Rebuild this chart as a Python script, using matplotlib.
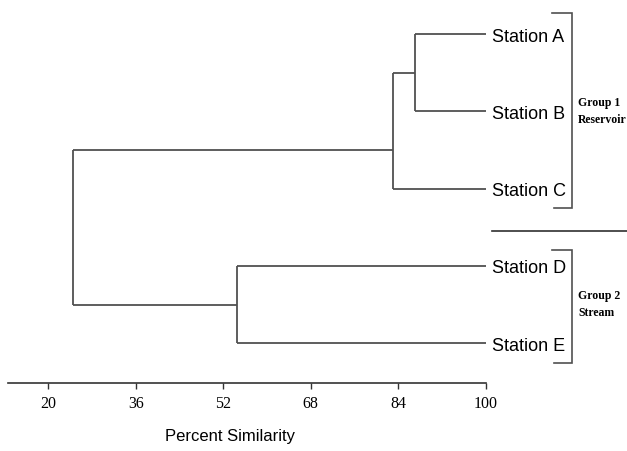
import matplotlib
matplotlib.use("Agg")
import matplotlib.pyplot as plt
from matplotlib import font_manager

# ---------------- data ----------------
leaves = ["Station A", "Station B", "Station C", "Station D", "Station E"]
merge_names = ["AB", "ABC", "DE", "ALL"]
merge_left = ["Station A", "AB", "Station D", "ABC"]
merge_right = ["Station B", "Station C", "Station E", "DE"]
merge_similarity = [87.0, 83.0, 54.5, 24.5]

tick_values = [20, 36, 52, 68, 84, 100]
x_label = "Percent Similarity"

group_labels = ["Group 1\nReservoir", "Group 2\nStream"]
group_members = [["Station A", "Station B", "Station C"], ["Station D", "Station E"]]

# ---------------- fonts ----------------
names = {f.name for f in font_manager.fontManager.ttflist}
if "Liberation Sans Narrow" in names:
    sans, leaf_size, xlab_size = "Liberation Sans Narrow", 16, 14.5
else:
    sans, leaf_size, xlab_size = "Liberation Sans", 13, 12
serif = "Liberation Serif"

line_color = "#505050"

fig = plt.figure(figsize=(6.27, 4.51), dpi=100)
ax = fig.add_axes([0, 68 / 451, 1, 383 / 451])
ax.set_xlim(11.166, 125.84)
ax.set_ylim(4.515, -0.4398)

# ---------------- dendrogram ----------------
node_x = {name: 100.0 for name in leaves}
node_y = {name: float(i) for i, name in enumerate(leaves)}
node_lo = {name: i for i, name in enumerate(leaves)}
node_hi = {name: i for i, name in enumerate(leaves)}

for name, a, b, s in zip(merge_names, merge_left, merge_right, merge_similarity):
    ya, yb = node_y[a], node_y[b]
    ax.plot([s, s], [ya, yb], color=line_color, lw=1.3, solid_capstyle="butt")
    ax.plot([s, node_x[a]], [ya, ya], color=line_color, lw=1.3, solid_capstyle="butt")
    ax.plot([s, node_x[b]], [yb, yb], color=line_color, lw=1.3, solid_capstyle="butt")
    node_x[name] = s
    node_lo[name] = node_lo[a]
    node_hi[name] = node_hi[b]
    node_y[name] = (node_hi[a] + node_lo[b]) / 2.0

for i, name in enumerate(leaves):
    ax.text(101.15, i + 0.04, name, family=[sans, "DejaVu Sans"], fontsize=leaf_size,
            va="center", ha="left", color="black")

# ---------------- group brackets ----------------
bx = 115.78
pads = [(0.272, 0.251), (0.207, 0.256)]
for label, members, (pt, pb) in zip(group_labels, group_members, pads):
    idx = [leaves.index(m) for m in members]
    top, bot = min(idx) - pt, max(idx) + pb
    ax.plot([bx - 3.6, bx, bx, bx - 3.3], [top, top, bot, bot], color=line_color,
            lw=1.2, solid_joinstyle="miter", clip_on=False)
    ax.text(116.9, sum(idx) / len(idx), label, family=serif, fontweight="bold",
            fontsize=8.5, va="center", ha="left", linespacing=1.6)

sep_y = (max(leaves.index(m) for m in group_members[0]) +
         min(leaves.index(m) for m in group_members[1])) / 2.0 + 0.048
ax.plot([101.15, 125.8], [sep_y, sep_y], color="#303030", lw=1.2, clip_on=False)

# ---------------- axis ----------------
for side in ["left", "top", "right"]:
    ax.spines[side].set_visible(False)
ax.spines["bottom"].set_bounds(12.63, 100)
ax.spines["bottom"].set_color("#333333")
ax.spines["bottom"].set_linewidth(1.2)
ax.set_yticks([])
ax.set_xticks(tick_values)
ax.set_xticklabels([str(v) for v in tick_values], family=serif, fontsize=11.5)
ax.tick_params(axis="x", direction="out", length=4, width=1, color="#333333", pad=5)

fig.text(230 / 627, 1 - 437 / 451, x_label, family=[sans, "DejaVu Sans"],
         fontsize=xlab_size, ha="center", va="center")

fig.savefig("out.png", dpi=100)
